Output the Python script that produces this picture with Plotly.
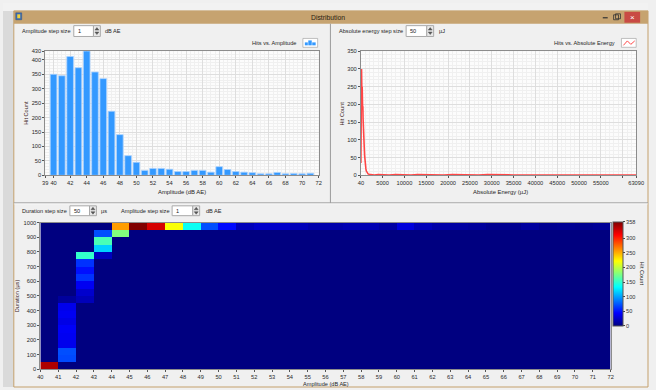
import plotly.graph_objects as go

W, H = 656, 390

# ---------------- data ----------------
# Hits vs. Amplitude (dB AE), step 1
amp_db = [40, 41, 42, 43, 44, 45, 46, 47, 48, 49, 50, 51, 52, 53, 54, 55,
          56, 57, 58, 59, 60, 61, 62, 63, 64, 65, 66, 67, 68, 69, 70, 71]
amp_hits = [350, 345, 412, 373, 445, 358, 335, 222, 141, 68, 45, 17, 24, 24, 21, 13,
            13, 17, 17, 11, 30, 20, 13, 11, 9, 5, 5, 10, 5, 6, 5, 7]
amp_ticks = [39, 40, 42, 44, 46, 48, 50, 52, 54, 56, 58, 60, 62, 64, 66, 68, 70, 72]
hit_ticks_left = [0, 50, 100, 150, 200, 250, 300, 350, 400, 430]

# Hits vs. Absolute Energy (µJ), step 50
energy_uJ = [40, 90, 140, 190, 240, 290, 340, 390, 440, 490,
             540, 590, 640, 690, 740, 790, 840, 890, 940, 990,
             1090, 1190, 1290, 1390, 1490, 1690, 1890, 2190, 2590, 3100,
             4000, 5000, 6500, 8000, 10000, 11500, 13000, 15000, 17000, 19000,
             21000, 23000, 25000, 27000, 29000, 31000, 33000, 35000, 37000, 39000,
             41000, 43000, 45000, 47000, 49000, 51000, 53000, 55000, 57000, 59000,
             61000, 63090]
energy_hits = [35, 300, 285, 300, 255, 230, 250, 215, 185, 195,
               160, 130, 118, 125, 100, 82, 70, 56, 46, 36,
               26, 18, 12, 9, 6, 4, 3, 2, 2, 1,
               2, 1, 1, 2, 1, 1, 2, 1, 1, 1,
               2, 1, 1, 1, 2, 1, 1, 1, 1, 2,
               1, 1, 1, 1, 1, 1, 1, 1, 1, 1,
               1, 1]
energy_tickvals = [40, 5000, 10000, 15000, 20000, 25000, 30000, 35000, 40000,
                   45000, 50000, 55000, 60000, 63090]
energy_ticktext = ["40", "5000", "10000", "15000", "20000", "25000", "30000", "35000",
                   "40000", "45000", "50000", "55000", "", "63090"]
hit_ticks_right = [0, 50, 100, 150, 200, 250, 300, 350]

# Duration vs. Amplitude heat map (bins: 1 dB x 50 µs)
amp_edges = [40, 41, 42, 43, 44, 45, 46, 47, 48, 49, 50, 51, 52, 53, 54, 55, 56,
             57, 58, 59, 60, 61, 62, 63, 64, 65, 66, 67, 68, 69, 70, 71, 72]
dur_edges = [0, 50, 100, 150, 200, 250, 300, 350, 400, 450, 500, 550, 600, 650,
             700, 750, 800, 850, 900, 950, 1000]
# column profiles (duration bins bottom -> top)
col_40 = [342, 0, 0, 0, 0, 0, 0, 0, 0, 0, 0, 0, 0, 0, 0, 0, 0, 0, 0, 0]
col_41 = [0, 70, 72, 38, 40, 42, 36, 40, 38, 10, 0, 0, 0, 0, 0, 0, 0, 0, 0, 0]
col_42 = [0, 0, 0, 0, 0, 0, 0, 0, 0, 20, 27, 40, 62, 50, 62, 152, 0, 0, 0, 0]
col_43 = [0, 0, 0, 0, 0, 0, 0, 0, 0, 0, 0, 0, 0, 0, 0, 22, 118, 160, 72, 0]
col_44 = [0, 0, 0, 0, 0, 0, 0, 0, 0, 0, 0, 0, 0, 0, 0, 0, 0, 0, 180, 258]
# top duration bin (950-1000 µs) for amplitudes 45..71
top_row_45_71 = [358, 328, 222, 138, 72, 48, 20, 26, 26, 20, 15, 15, 18, 18, 12,
                 32, 20, 14, 12, 10, 6, 6, 11, 6, 7, 6, 8]
cbar_ticks = [0, 50, 100, 150, 200, 250, 300, 358]

n_rows = len(dur_edges) - 1
n_cols = len(amp_edges) - 1
z = [[0] * n_cols for _ in range(n_rows)]
for ci, col in enumerate([col_40, col_41, col_42, col_43, col_44]):
    for r in range(n_rows):
        z[r][ci] = col[r]
for k, v in enumerate(top_row_45_71):
    z[n_rows - 1][5 + k] = v

# ---------------- helpers ----------------
FONT = "Liberation Sans, Arial, sans-serif"
shapes = []
annots = []


def fx(x):
    return x / W


def fy(y):
    return 1 - y / H


def rect(x0, y0, x1, y1, fill, line=None, lw=1):
    shapes.append(dict(type="rect", xref="paper", yref="paper",
                       x0=fx(x0), x1=fx(x1), y0=fy(y1), y1=fy(y0),
                       fillcolor=fill,
                       line=dict(color=line if line else fill, width=lw if line else 0),
                       layer="below"))


def seg(x0, y0, x1, y1, color, lw=1):
    shapes.append(dict(type="line", xref="paper", yref="paper",
                       x0=fx(x0), x1=fx(x1), y0=fy(y0), y1=fy(y1),
                       line=dict(color=color, width=lw), layer="below"))


def path(points, color, fill=None, lw=1, closed=False, layer="above"):
    d = "M " + " L ".join(f"{fx(x):.5f},{fy(y):.5f}" for x, y in points)
    if closed:
        d += " Z"
    shapes.append(dict(type="path", xref="paper", yref="paper", path=d,
                       line=dict(color=color, width=lw),
                       fillcolor=fill if fill else "rgba(0,0,0,0)", layer=layer))


def text(x, y, s, size=6.5, color="#1e1e1e", xa="left", ya="middle", angle=0):
    annots.append(dict(x=fx(x), y=fy(y), xref="paper", yref="paper", text=s,
                       showarrow=False, xanchor=xa, yanchor=ya, textangle=angle,
                       font=dict(family=FONT, size=size, color=color)))


def spin_box(x0, x1, y0, y1, val):
    rect(x0, y0, x1, y1, "#ffffff", "#a9a9a9")
    text(x0 + 2, (y0 + y1) / 2, val, size=5.6)
    sx0, sx1 = x1, x1 + 7
    rect(sx0, y0, sx1, y1, "#e9e9e9", "#a9a9a9")
    cx = (sx0 + sx1) / 2
    ym = (y0 + y1) / 2
    path([(cx - 2, ym - 1), (cx + 2, ym - 1), (cx, ym - 3.5)], "#555", "#555", 0.5, True)
    path([(cx - 2, ym + 1), (cx + 2, ym + 1), (cx, ym + 3.5)], "#555", "#555", 0.5, True)


LBL = 5.6

# ---------------- chrome ----------------
rect(0, 0, 11, H, "#d6d6d6")
rect(0, 0, W, 8, "#f2f2f2")
rect(0, 8, 11, H, "#dadada")
rect(11, 8, W, H, "#f0f0f0", "#c4a06c", 1)
rect(11, 8, W, 21, "#c6a370")
rect(13, 10, 19, 17, "#3c6fb4", "#2a4f86", 0.5)
rect(14.5, 11.5, 17.5, 15.5, "#f2d33a")
text(331, 14.8, "Distribution", size=6.8, color="#2a2010", xa="center")
seg(610, 15, 615, 15, "#333", 1.2)
rect(621, 12, 626, 17, "rgba(0,0,0,0)", "#333", 0.8)
rect(623, 11, 628, 16, "rgba(0,0,0,0)", "#333", 0.8)
rect(632, 9, 648, 20, "#c94a44")
text(640, 14.5, "×", size=8, color="#ffffff", xa="center")
# panel dividers
seg(333, 21, 333, 203, "#9a9a9a", 1)
seg(11, 203, W, 203, "#9a9a9a", 1)
seg(11, 204, W, 204, "#ffffff", 0.6)

# plot backgrounds
rect(43, 49, 321, 175, "#fcfcfc")
rect(364, 49, 644, 175, "#fcfcfc")

# top-left controls
text(17, 28.5, "Amplitude step size", size=LBL)
spin_box(72, 92, 23, 34, "1")
text(102, 28.5, "dB AE", size=LBL)
text(300, 41, "Hits vs. Amplitude", size=LBL, xa="right")
rect(305, 36, 320, 45, "#ffffff", "#9a9a9a", 0.6)
rect(307, 40, 310, 43, "#3399ff")
rect(310.5, 38, 314, 43, "#3399ff")
rect(314.5, 40, 318, 43, "#3399ff")
text(24, 112, "Hit Count", size=LBL, color="#3a2020", xa="center", angle=-90)
text(182, 192, "Amplitude (dB AE)", size=LBL + 0.3, color="#1e1e1e", xa="center")

# top-right controls
text(340, 28.5, "Absolute energy step size", size=LBL)
spin_box(410, 431, 23, 34, "50")
text(441, 28.5, "µJ", size=LBL)
text(624, 41, "Hits vs. Absolute Energy", size=LBL, xa="right")
rect(629, 36, 644, 45, "#ffffff", "#9a9a9a", 0.6)
path([(631, 43), (635, 38.5), (638.5, 42), (642.5, 38.5)], "#ff4b4b", None, 1)
text(345, 112, "Hit Count", size=LBL, color="#3a2020", xa="center", angle=-90)
text(506, 192, "Absolute Energy (µJ)", size=LBL + 0.3, color="#1e1e1e", xa="center")

# bottom controls
text(17, 211, "Duration step size", size=LBL)
spin_box(68, 88, 206, 216, "50")
text(98, 211, "µs", size=LBL)
text(118, 211, "Amplitude step size", size=LBL)
spin_box(172, 193, 206, 216, "1")
text(204, 211, "dB AE", size=LBL)
text(15, 297, "Duration (µs)", size=LBL, color="#3a2020", xa="center", angle=-90)
text(328, 386.5, "Amplitude (dB AE)", size=LBL, color="#1e1e1e", xa="center")
text(650, 275, "Hit Count", size=LBL, color="#1e1e1e", xa="center", angle=90)

# ---------------- traces ----------------
fig = go.Figure()
fig.add_trace(go.Bar(x=amp_db, y=amp_hits, width=0.8,
                     marker=dict(color="#3399ff", line=dict(color="#a9d2ff", width=0.8)),
                     xaxis="x", yaxis="y", hoverinfo="x+y"))
fig.add_trace(go.Scatter(x=energy_uJ, y=energy_hits, mode="lines",
                         line=dict(color="#ff4646", width=1.6),
                         xaxis="x2", yaxis="y2"))
jet = [[0.0, "#000080"], [0.125, "#0000ff"], [0.375, "#00ffff"],
       [0.625, "#ffff00"], [0.875, "#ff0000"], [1.0, "#800000"]]
fig.add_trace(go.Heatmap(x=amp_edges, y=dur_edges, z=z, colorscale=jet,
                         zmin=0, zmax=358, xaxis="x3", yaxis="y3",
                         colorbar=dict(x=fx(620), xanchor="left", y=fy(222), yanchor="top",
                                       len=(328 - 222) / H, lenmode="fraction",
                                       thickness=10, thicknessmode="pixels",
                                       outlinecolor="#555", outlinewidth=1,
                                       tickvals=cbar_ticks, ticks="outside", ticklen=2,
                                       tickcolor="#444", xpad=0, ypad=0,
                                       tickfont=dict(family=FONT, size=5.6, color="#333"))))

tickfont = dict(family=FONT, size=5.7, color="#2a2a2a")
common = dict(showline=True, mirror=True, linecolor="#8c8c8c", linewidth=1,
              ticks="outside", ticklen=2, tickcolor="#555", tickfont=tickfont,
              tickangle=0, zeroline=False, fixedrange=True)

fig.update_layout(
    width=W, height=H, autosize=False,
    margin=dict(l=0, r=0, t=0, b=0),
    paper_bgcolor="#f0f0f0", plot_bgcolor="rgba(0,0,0,0)",
    showlegend=False, bargap=0.2,
    font=dict(family=FONT, size=6),
    shapes=shapes, annotations=annots,
    xaxis=dict(domain=[fx(43), fx(321)], range=[39, 72], anchor="y",
               tickmode="array", tickvals=amp_ticks, showgrid=True,
               gridcolor="#dedede", gridwidth=1,
               minor=dict(tickmode="linear", tick0=0, dtick=0.5, showgrid=True,
                          gridcolor="#f0f0f0"),
               **common),
    yaxis=dict(domain=[fy(175), fy(49)], range=[0, 430], anchor="x",
               tickmode="array", tickvals=hit_ticks_left, showgrid=True,
               gridcolor="#dedede",
               minor=dict(tickmode="linear", tick0=0, dtick=10, showgrid=True,
                          gridcolor="#f0f0f0"),
               **common),
    xaxis2=dict(domain=[fx(364), fx(644)], range=[40, 63090], anchor="y2",
                tickmode="array", tickvals=energy_tickvals, ticktext=energy_ticktext,
                showgrid=True, gridcolor="#dedede",
                minor=dict(tickmode="linear", tick0=0, dtick=1000, showgrid=True,
                           gridcolor="#f0f0f0"),
                **common),
    yaxis2=dict(domain=[fy(175), fy(49)], range=[0, 350], anchor="x2",
                tickmode="array", tickvals=hit_ticks_right, showgrid=True,
                gridcolor="#dedede",
                minor=dict(tickmode="linear", tick0=0, dtick=10, showgrid=True,
                           gridcolor="#f0f0f0"),
                **common),
    xaxis3=dict(domain=[fx(38), fx(618)], range=[40, 72], anchor="y3",
                tickmode="array", tickvals=amp_edges, showgrid=False,
                **common),
    yaxis3=dict(domain=[fy(372), fy(223)], range=[0, 1000], anchor="x3",
                tickmode="linear", tick0=0, dtick=100, showgrid=False,
                **common),
)

fig.write_html("out.html",
               config=dict(displayModeBar=False, staticPlot=True),
               post_script="document.body.style.margin='0px';"
                           "document.body.style.overflow='hidden';")
